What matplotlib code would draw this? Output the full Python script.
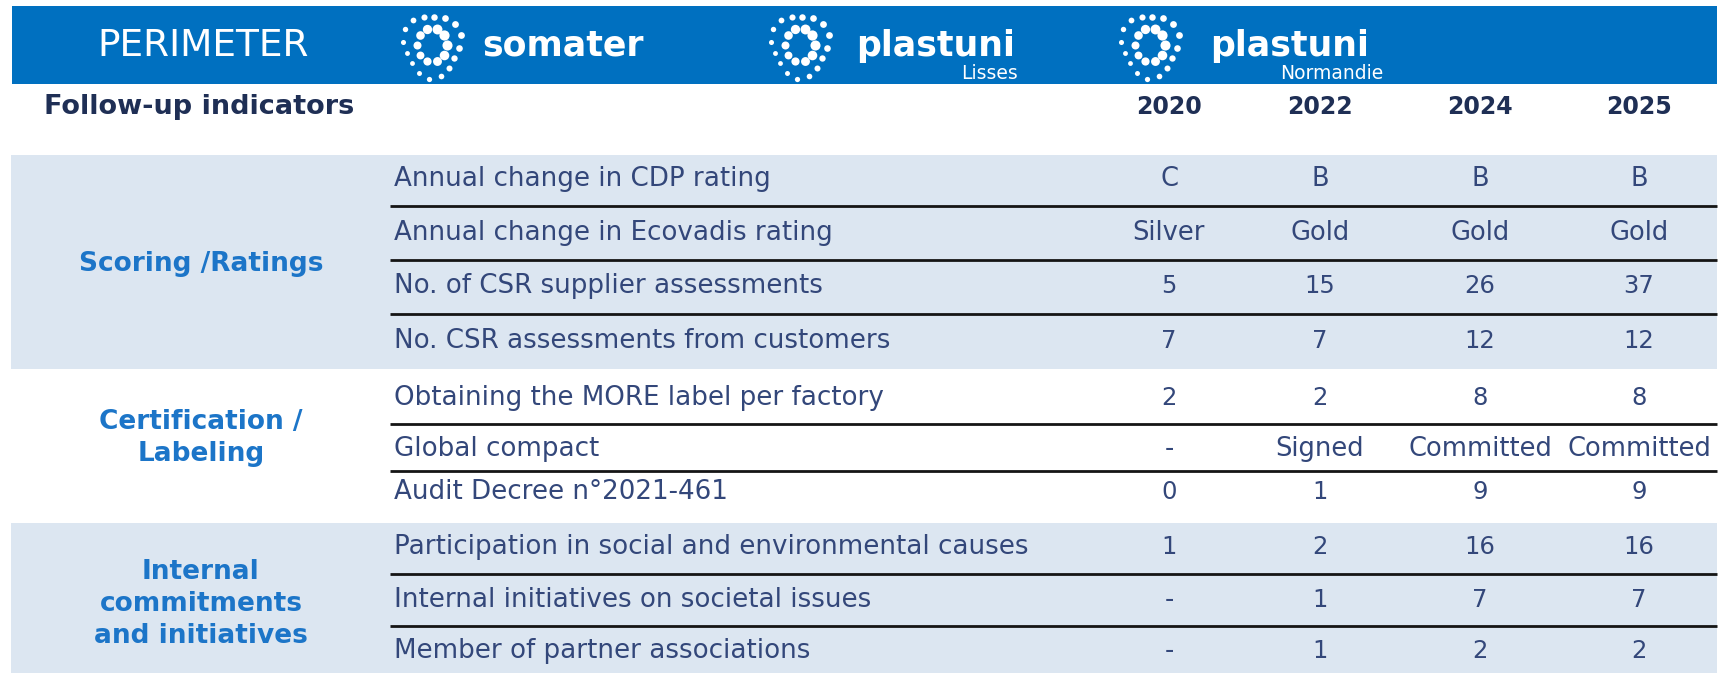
import matplotlib.pyplot as plt
import numpy as np
from matplotlib.patches import Rectangle

# table content
years = ['2020', '2022', '2024', '2025']
sections = ['Scoring /Ratings', 'Certification /\nLabeling', 'Internal\ncommitments\nand initiatives']
indicators = ['Annual change in CDP rating',
              'Annual change in Ecovadis rating',
              'No. of CSR supplier assessments',
              'No. CSR assessments from customers',
              'Obtaining the MORE label per factory',
              'Global compact',
              'Audit Decree n°2021-461',
              'Participation in social and environmental causes',
              'Internal initiatives on societal issues',
              'Member of partner associations']
rows_per_section = [4, 3, 3]
v2020 = ['C', 'Silver', '5', '7', '2', '-', '0', '1', '-', '-']
v2022 = ['B', 'Gold', '15', '7', '2', 'Signed', '1', '2', '1', '1']
v2024 = ['B', 'Gold', '26', '12', '8', 'Committed', '9', '16', '7', '2']
v2025 = ['B', 'Gold', '37', '12', '8', 'Committed', '9', '16', '7', '2']
values = [v2020, v2022, v2024, v2025]
brands = [('somater', ''), ('plastuni', 'Lisses'), ('plastuni', 'Normandie')]

# colours
BLUE = '#0070C0'
BAND = '#DCE6F1'
TXT = '#33477A'
SEC = '#1C75C8'
NAVY = '#1F2F55'

# layout (pixel units, y downwards)
W, H = 1725, 673
row_y = [179, 233, 286, 341, 398, 449, 492, 547, 600, 651]
sec_span = [(155, 369), (369, 523), (523, 673)]
sec_label_y = [264, 438, 604]
col_x = [1169, 1320, 1480, 1639]
logo_x = [432, 800, 1150]
brand_x = [482, 856, 1210]
sub_right = [None, 1018, 1383]

fig = plt.figure(figsize=(17.25, 6.73), dpi=100)
ax = fig.add_axes([0, 0, 1, 1])
ax.set_xlim(0, W)
ax.set_ylim(H, 0)
ax.axis('off')

# header bar
ax.add_patch(Rectangle((12, 6), 1705, 78, color=BLUE, lw=0))
ax.text(203, 46, 'PERIMETER', color='white', fontsize=27, ha='center', va='center')


def draw_logo(cx, cy):
    # dotted swirl, rough imitation of the brand mark
    n_out = 16
    for i in range(n_out):
        a = 2 * np.pi * i / n_out + 0.3
        r = 31 + 3 * np.sin(3 * a)
        s = 12 + 12 * (0.5 + 0.5 * np.sin(a + 1.0))
        ax.scatter(cx + r * np.cos(a) * 0.9, cy - r * np.sin(a), s=s, color='white', lw=0, zorder=3)
    n_in = 10
    for i in range(n_in):
        a = 2 * np.pi * i / n_in
        r = 17
        s = 32 + 22 * (0.5 + 0.5 * np.cos(a - 0.5))
        ax.scatter(cx + r * np.cos(a) * 0.9, cy - r * np.sin(a), s=s, color='white', lw=0, zorder=3)


for lx, bx, sr, (name, sub) in zip(logo_x, brand_x, sub_right, brands):
    draw_logo(lx, 45)
    ax.text(bx, 56, name, color='white', fontsize=25, fontweight='bold', ha='left', va='baseline')
    if sub:
        ax.text(sr, 79, sub, color='white', fontsize=13.5, ha='right', va='baseline')

# column header row
ax.text(44, 107, 'Follow-up indicators', color=NAVY, fontsize=19.5, fontweight='bold', ha='left', va='center')
for x, y in zip(col_x, years):
    ax.text(x, 107, y, color=NAVY, fontsize=17, fontweight='bold', ha='center', va='center')

# section backgrounds and labels
r0 = 0
for k, (name, n) in enumerate(zip(sections, rows_per_section)):
    y0, y1 = sec_span[k]
    if k != 1:
        ax.add_patch(Rectangle((11, y0), 1706, y1 - y0, color=BAND, lw=0, zorder=0))
    ax.text(201, sec_label_y[k], name, color=SEC, fontsize=19, fontweight='bold',
            ha='center', va='center', linespacing=1.3)
    # separators between rows of the same section
    for j in range(r0, r0 + n - 1):
        ymid = (row_y[j] + row_y[j + 1]) / 2
        ax.plot([390, 1717], [ymid, ymid], color='#151515', lw=2, solid_capstyle='butt')
    r0 += n

# indicator rows
for i, label in enumerate(indicators):
    ax.text(394, row_y[i], label, color=TXT, fontsize=18.8, ha='left', va='center')
    for x, col in zip(col_x, values):
        v = col[i]
        fs = 17.5 if v[0].isdigit() else 18.5
        ax.text(x, row_y[i], v, color=TXT, fontsize=fs, ha='center', va='center')

fig.savefig('out.png', dpi=100, facecolor='white')
